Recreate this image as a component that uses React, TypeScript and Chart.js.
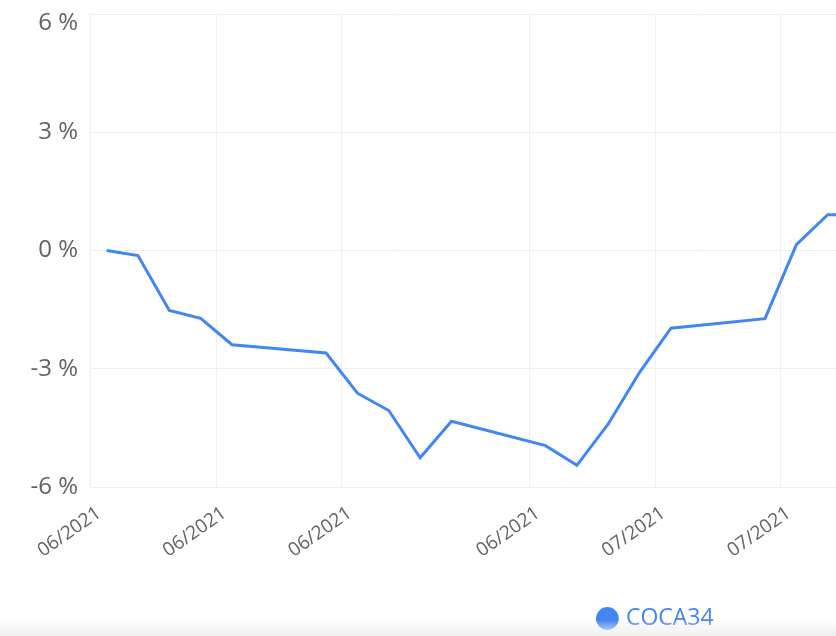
import React, { useEffect, useRef } from "react";
import { Chart, registerables } from "chart.js";

Chart.register(...registerables);

const seriesName = "COCA34";
const dates = [
  "2021-06-14", "2021-06-15", "2021-06-16", "2021-06-17", "2021-06-18",
  "2021-06-21", "2021-06-22", "2021-06-23", "2021-06-24", "2021-06-25",
  "2021-06-28", "2021-06-29", "2021-06-30", "2021-07-01", "2021-07-02",
  "2021-07-05", "2021-07-06", "2021-07-07", "2021-07-08",
];
const returnsPct = [
  0, -0.13, -1.52, -1.72, -2.39,
  -2.6, -3.62, -4.06, -5.26, -4.33,
  -4.95, -5.45, -4.4, -3.09, -1.97,
  -1.73, 0.15, 0.91, 0.91,
];
const tickDates = [
  "2021-06-13T12:00Z", "2021-06-17T12:00Z", "2021-06-21T12:00Z",
  "2021-06-27T12:00Z", "2021-07-01T12:00Z", "2021-07-05T12:00Z",
];
const tickLabels = ["06/2021", "06/2021", "06/2021", "06/2021", "07/2021", "07/2021"];
const yMin = -6;
const yMax = 6;
const yStep = 3;

const BLUE = "#4285F4";
const GRID = "#efefef";
const TEXT = "#626262";
const FONT = "'Open Sans', sans-serif";

const ORIGIN = Date.parse("2021-06-01T00:00:00Z");
const toDay = (s: string) =>
  (Date.parse(s.length === 10 ? s + "T00:00:00Z" : s) - ORIGIN) / 86400000;

export default function App() {
  const ref = useRef<HTMLCanvasElement | null>(null);

  useEffect(() => {
    if (!ref.current) return;
    const chart = new Chart(ref.current, {
      type: "line",
      data: {
        datasets: [
          {
            label: seriesName,
            data: dates.map((d, i) => ({ x: toDay(d), y: returnsPct[i] })),
            borderColor: BLUE,
            backgroundColor: BLUE,
            borderWidth: 3,
            pointRadius: 0,
            pointHoverRadius: 0,
            tension: 0,
            fill: false,
          },
        ],
      },
      options: {
        responsive: false,
        animation: false,
        devicePixelRatio: 1,
        layout: { padding: { top: 0, right: 10, left: 0, bottom: 0 } },
        plugins: {
          legend: {
            position: "bottom",
            labels: {
              usePointStyle: true,
              pointStyle: "circle",
              boxWidth: 14,
              boxHeight: 14,
              padding: 3,
              color: BLUE,
              font: { family: FONT, size: 23 },
            },
          },
          tooltip: { enabled: false },
        },
        scales: {
          x: {
            type: "linear",
            min: 12.47,
            max: 51.51,
            afterBuildTicks: (s: any) => {
              s.ticks = tickDates.map((d) => ({ value: toDay(d) }));
            },
            afterFit: (s: any) => {
              s.height = 117;
            },
            grid: { color: GRID, drawTicks: false },
            border: { color: GRID },
            ticks: {
              autoSkip: false,
              minRotation: 35,
              maxRotation: 35,
              padding: 15,
              labelOffset: 8,
              color: TEXT,
              font: { family: FONT, size: 19 },
              callback: (_v: any, i: number) => tickLabels[i],
            },
          },
          y: {
            min: yMin,
            max: yMax,
            afterFit: (s: any) => {
              s.width = 90;
              s.paddingTop = 14;
              s.paddingBottom = 14;
            },
            grid: { color: GRID, drawTicks: false },
            border: { color: GRID },
            ticks: {
              stepSize: yStep,
              padding: 12,
              color: TEXT,
              font: (c: any) =>
                c.tick && c.tick.value === yMax
                  ? { family: FONT, size: 24, lineHeight: 0.75 }
                  : { family: FONT, size: 24 },
              callback: (v: any) => (v === yMax ? ["", `${v} %`] : `${v} %`),
            },
          },
        },
      },
    });
    return () => chart.destroy();
  }, []);

  return (
    <div
      style={{
        position: "fixed",
        left: 0,
        top: 0,
        width: 836,
        height: 636,
        overflow: "hidden",
        background: "#ffffff",
      }}
    >
      <canvas ref={ref} width={1324} height={640} style={{ display: "block" }} />
      <div
        style={{
          position: "absolute",
          left: 0,
          right: 0,
          bottom: 0,
          height: 16,
          background: "linear-gradient(rgba(239,239,239,0), #eeeeee)",
        }}
      />
    </div>
  );
}
